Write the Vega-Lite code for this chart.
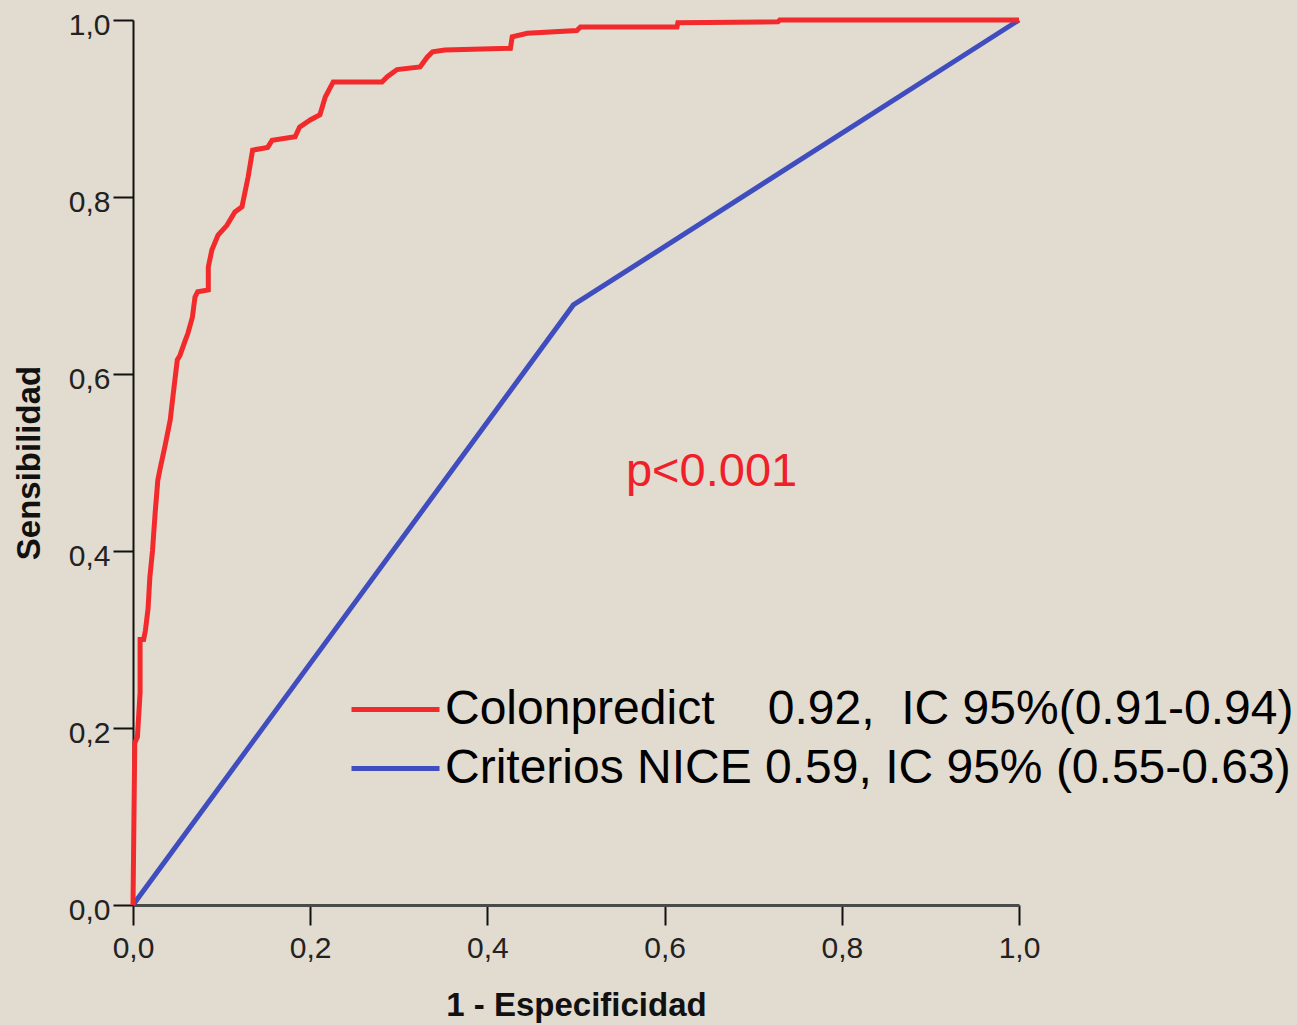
{
  "$schema": "https://vega.github.io/schema/vega-lite/v6.json",
  "autosize": {"type": "none"},
  "padding": {"left": 133, "top": 20, "right": 278, "bottom": 120},
  "width": 886,
  "height": 885,
  "background": "#e2dbcf",
  "config": {
    "view": {"stroke": null},
    "font": "Liberation Sans",
    "legend": {
      "orient": "none", "title": null, "padding": 0,
      "symbolType": "stroke", "symbolSize": 7744, "symbolStrokeWidth": 5,
      "labelFont": "Liberation Sans", "labelFontSize": 48, "labelColor": "#000000",
      "labelLimit": 1500, "labelOffset": 3
    },
    "axis": {
      "grid": false,
      "tickColor": "#111111", "tickWidth": 2, "tickSize": 20,
      "labelFont": "Liberation Sans", "labelFontSize": 30, "labelColor": "#222222",
      "labelFlush": false,
      "titleFont": "Liberation Sans", "titleFontSize": 33, "titleFontWeight": "bold", "titleColor": "#111111"
    }
  },
  "datasets": {
    "colon": [
      {"series": "Colonpredict\u00a0\u00a0\u00a0 0.92,\u00a0 IC 95%(0.91-0.94)", "i": 0, "fpr": 0.0, "tpr": 0.0},
      {"series": "Colonpredict\u00a0\u00a0\u00a0 0.92,\u00a0 IC 95%(0.91-0.94)", "i": 1, "fpr": 0.002, "tpr": 0.183},
      {"series": "Colonpredict\u00a0\u00a0\u00a0 0.92,\u00a0 IC 95%(0.91-0.94)", "i": 2, "fpr": 0.005, "tpr": 0.19},
      {"series": "Colonpredict\u00a0\u00a0\u00a0 0.92,\u00a0 IC 95%(0.91-0.94)", "i": 3, "fpr": 0.008, "tpr": 0.24},
      {"series": "Colonpredict\u00a0\u00a0\u00a0 0.92,\u00a0 IC 95%(0.91-0.94)", "i": 4, "fpr": 0.008, "tpr": 0.30},
      {"series": "Colonpredict\u00a0\u00a0\u00a0 0.92,\u00a0 IC 95%(0.91-0.94)", "i": 5, "fpr": 0.012, "tpr": 0.30},
      {"series": "Colonpredict\u00a0\u00a0\u00a0 0.92,\u00a0 IC 95%(0.91-0.94)", "i": 6, "fpr": 0.014, "tpr": 0.31},
      {"series": "Colonpredict\u00a0\u00a0\u00a0 0.92,\u00a0 IC 95%(0.91-0.94)", "i": 7, "fpr": 0.017, "tpr": 0.335},
      {"series": "Colonpredict\u00a0\u00a0\u00a0 0.92,\u00a0 IC 95%(0.91-0.94)", "i": 8, "fpr": 0.019, "tpr": 0.37},
      {"series": "Colonpredict\u00a0\u00a0\u00a0 0.92,\u00a0 IC 95%(0.91-0.94)", "i": 9, "fpr": 0.022, "tpr": 0.40},
      {"series": "Colonpredict\u00a0\u00a0\u00a0 0.92,\u00a0 IC 95%(0.91-0.94)", "i": 10, "fpr": 0.025, "tpr": 0.443},
      {"series": "Colonpredict\u00a0\u00a0\u00a0 0.92,\u00a0 IC 95%(0.91-0.94)", "i": 11, "fpr": 0.028, "tpr": 0.48},
      {"series": "Colonpredict\u00a0\u00a0\u00a0 0.92,\u00a0 IC 95%(0.91-0.94)", "i": 12, "fpr": 0.031, "tpr": 0.495},
      {"series": "Colonpredict\u00a0\u00a0\u00a0 0.92,\u00a0 IC 95%(0.91-0.94)", "i": 13, "fpr": 0.036, "tpr": 0.518},
      {"series": "Colonpredict\u00a0\u00a0\u00a0 0.92,\u00a0 IC 95%(0.91-0.94)", "i": 14, "fpr": 0.042, "tpr": 0.548},
      {"series": "Colonpredict\u00a0\u00a0\u00a0 0.92,\u00a0 IC 95%(0.91-0.94)", "i": 15, "fpr": 0.045, "tpr": 0.574},
      {"series": "Colonpredict\u00a0\u00a0\u00a0 0.92,\u00a0 IC 95%(0.91-0.94)", "i": 16, "fpr": 0.050, "tpr": 0.616},
      {"series": "Colonpredict\u00a0\u00a0\u00a0 0.92,\u00a0 IC 95%(0.91-0.94)", "i": 17, "fpr": 0.053, "tpr": 0.621},
      {"series": "Colonpredict\u00a0\u00a0\u00a0 0.92,\u00a0 IC 95%(0.91-0.94)", "i": 18, "fpr": 0.059, "tpr": 0.638},
      {"series": "Colonpredict\u00a0\u00a0\u00a0 0.92,\u00a0 IC 95%(0.91-0.94)", "i": 19, "fpr": 0.062, "tpr": 0.646},
      {"series": "Colonpredict\u00a0\u00a0\u00a0 0.92,\u00a0 IC 95%(0.91-0.94)", "i": 20, "fpr": 0.067, "tpr": 0.664},
      {"series": "Colonpredict\u00a0\u00a0\u00a0 0.92,\u00a0 IC 95%(0.91-0.94)", "i": 21, "fpr": 0.070, "tpr": 0.687},
      {"series": "Colonpredict\u00a0\u00a0\u00a0 0.92,\u00a0 IC 95%(0.91-0.94)", "i": 22, "fpr": 0.073, "tpr": 0.693},
      {"series": "Colonpredict\u00a0\u00a0\u00a0 0.92,\u00a0 IC 95%(0.91-0.94)", "i": 23, "fpr": 0.085, "tpr": 0.695},
      {"series": "Colonpredict\u00a0\u00a0\u00a0 0.92,\u00a0 IC 95%(0.91-0.94)", "i": 24, "fpr": 0.085, "tpr": 0.721},
      {"series": "Colonpredict\u00a0\u00a0\u00a0 0.92,\u00a0 IC 95%(0.91-0.94)", "i": 25, "fpr": 0.089, "tpr": 0.740},
      {"series": "Colonpredict\u00a0\u00a0\u00a0 0.92,\u00a0 IC 95%(0.91-0.94)", "i": 26, "fpr": 0.096, "tpr": 0.757},
      {"series": "Colonpredict\u00a0\u00a0\u00a0 0.92,\u00a0 IC 95%(0.91-0.94)", "i": 27, "fpr": 0.106, "tpr": 0.768},
      {"series": "Colonpredict\u00a0\u00a0\u00a0 0.92,\u00a0 IC 95%(0.91-0.94)", "i": 28, "fpr": 0.115, "tpr": 0.783},
      {"series": "Colonpredict\u00a0\u00a0\u00a0 0.92,\u00a0 IC 95%(0.91-0.94)", "i": 29, "fpr": 0.123, "tpr": 0.789},
      {"series": "Colonpredict\u00a0\u00a0\u00a0 0.92,\u00a0 IC 95%(0.91-0.94)", "i": 30, "fpr": 0.130, "tpr": 0.823},
      {"series": "Colonpredict\u00a0\u00a0\u00a0 0.92,\u00a0 IC 95%(0.91-0.94)", "i": 31, "fpr": 0.135, "tpr": 0.853},
      {"series": "Colonpredict\u00a0\u00a0\u00a0 0.92,\u00a0 IC 95%(0.91-0.94)", "i": 32, "fpr": 0.152, "tpr": 0.856},
      {"series": "Colonpredict\u00a0\u00a0\u00a0 0.92,\u00a0 IC 95%(0.91-0.94)", "i": 33, "fpr": 0.157, "tpr": 0.864},
      {"series": "Colonpredict\u00a0\u00a0\u00a0 0.92,\u00a0 IC 95%(0.91-0.94)", "i": 34, "fpr": 0.183, "tpr": 0.868},
      {"series": "Colonpredict\u00a0\u00a0\u00a0 0.92,\u00a0 IC 95%(0.91-0.94)", "i": 35, "fpr": 0.188, "tpr": 0.879},
      {"series": "Colonpredict\u00a0\u00a0\u00a0 0.92,\u00a0 IC 95%(0.91-0.94)", "i": 36, "fpr": 0.200, "tpr": 0.887},
      {"series": "Colonpredict\u00a0\u00a0\u00a0 0.92,\u00a0 IC 95%(0.91-0.94)", "i": 37, "fpr": 0.211, "tpr": 0.893},
      {"series": "Colonpredict\u00a0\u00a0\u00a0 0.92,\u00a0 IC 95%(0.91-0.94)", "i": 38, "fpr": 0.217, "tpr": 0.913},
      {"series": "Colonpredict\u00a0\u00a0\u00a0 0.92,\u00a0 IC 95%(0.91-0.94)", "i": 39, "fpr": 0.226, "tpr": 0.930},
      {"series": "Colonpredict\u00a0\u00a0\u00a0 0.92,\u00a0 IC 95%(0.91-0.94)", "i": 40, "fpr": 0.281, "tpr": 0.930},
      {"series": "Colonpredict\u00a0\u00a0\u00a0 0.92,\u00a0 IC 95%(0.91-0.94)", "i": 41, "fpr": 0.287, "tpr": 0.936},
      {"series": "Colonpredict\u00a0\u00a0\u00a0 0.92,\u00a0 IC 95%(0.91-0.94)", "i": 42, "fpr": 0.298, "tpr": 0.944},
      {"series": "Colonpredict\u00a0\u00a0\u00a0 0.92,\u00a0 IC 95%(0.91-0.94)", "i": 43, "fpr": 0.324, "tpr": 0.947},
      {"series": "Colonpredict\u00a0\u00a0\u00a0 0.92,\u00a0 IC 95%(0.91-0.94)", "i": 44, "fpr": 0.332, "tpr": 0.958},
      {"series": "Colonpredict\u00a0\u00a0\u00a0 0.92,\u00a0 IC 95%(0.91-0.94)", "i": 45, "fpr": 0.338, "tpr": 0.964},
      {"series": "Colonpredict\u00a0\u00a0\u00a0 0.92,\u00a0 IC 95%(0.91-0.94)", "i": 46, "fpr": 0.352, "tpr": 0.966},
      {"series": "Colonpredict\u00a0\u00a0\u00a0 0.92,\u00a0 IC 95%(0.91-0.94)", "i": 47, "fpr": 0.426, "tpr": 0.968},
      {"series": "Colonpredict\u00a0\u00a0\u00a0 0.92,\u00a0 IC 95%(0.91-0.94)", "i": 48, "fpr": 0.428, "tpr": 0.981},
      {"series": "Colonpredict\u00a0\u00a0\u00a0 0.92,\u00a0 IC 95%(0.91-0.94)", "i": 49, "fpr": 0.445, "tpr": 0.985},
      {"series": "Colonpredict\u00a0\u00a0\u00a0 0.92,\u00a0 IC 95%(0.91-0.94)", "i": 50, "fpr": 0.501, "tpr": 0.988},
      {"series": "Colonpredict\u00a0\u00a0\u00a0 0.92,\u00a0 IC 95%(0.91-0.94)", "i": 51, "fpr": 0.505, "tpr": 0.992},
      {"series": "Colonpredict\u00a0\u00a0\u00a0 0.92,\u00a0 IC 95%(0.91-0.94)", "i": 52, "fpr": 0.614, "tpr": 0.992},
      {"series": "Colonpredict\u00a0\u00a0\u00a0 0.92,\u00a0 IC 95%(0.91-0.94)", "i": 53, "fpr": 0.615, "tpr": 0.997},
      {"series": "Colonpredict\u00a0\u00a0\u00a0 0.92,\u00a0 IC 95%(0.91-0.94)", "i": 54, "fpr": 0.728, "tpr": 0.998},
      {"series": "Colonpredict\u00a0\u00a0\u00a0 0.92,\u00a0 IC 95%(0.91-0.94)", "i": 55, "fpr": 0.730, "tpr": 1.0},
      {"series": "Colonpredict\u00a0\u00a0\u00a0 0.92,\u00a0 IC 95%(0.91-0.94)", "i": 56, "fpr": 1.0, "tpr": 1.0}
    ],
    "nice": [
      {"series": "Criterios NICE 0.59, IC 95% (0.55-0.63)", "i": 0, "fpr": 0.0, "tpr": 0.0},
      {"series": "Criterios NICE 0.59, IC 95% (0.55-0.63)", "i": 1, "fpr": 0.497, "tpr": 0.678},
      {"series": "Criterios NICE 0.59, IC 95% (0.55-0.63)", "i": 2, "fpr": 1.0, "tpr": 1.0}
    ],
    "note": [
      {"label": "p<0.001", "fpr": 0.653, "tpr": 0.489}
    ]
  },
  "resolve": {"scale": {"color": "independent"}, "legend": {"color": "independent"}},
  "layer": [
    {
      "data": {"name": "nice"},
      "mark": {"type": "line", "strokeWidth": 5, "clip": false},
      "encoding": {
        "x": {
          "field": "fpr", "type": "quantitative",
          "scale": {"domain": [0, 1], "nice": false, "zero": false},
          "axis": {
            "title": "1 - Especificidad",
            "values": [0, 0.2, 0.4, 0.6, 0.8, 1.0],
            "format": ".1f",
            "labelExpr": "replace(datum.label, '.', ',')",
            "domainColor": "#4a4a4a", "domainWidth": 3,
            "labelPadding": 8,
            "titlePadding": 26
          }
        },
        "y": {
          "field": "tpr", "type": "quantitative",
          "scale": {"domain": [0, 1], "nice": false, "zero": false},
          "axis": {
            "title": "Sensibilidad",
            "values": [0, 0.2, 0.4, 0.6, 0.8, 1.0],
            "format": ".1f",
            "labelExpr": "replace(datum.label, '.', ',')",
            "domainColor": "#111111", "domainWidth": 2,
            "labelPadding": 3, "labelOffset": 5,
            "titlePadding": 22
          }
        },
        "color": {
          "field": "series", "type": "nominal",
          "scale": {"range": ["#3f4dbf"]},
          "legend": {"legendX": 216, "legendY": 702}
        },
        "order": {"field": "i", "type": "quantitative"}
      }
    },
    {
      "data": {"name": "colon"},
      "mark": {"type": "line", "strokeWidth": 5, "clip": false},
      "encoding": {
        "x": {"field": "fpr", "type": "quantitative"},
        "y": {"field": "tpr", "type": "quantitative"},
        "color": {
          "field": "series", "type": "nominal",
          "scale": {"range": ["#f22a2c"]},
          "legend": {"legendX": 216, "legendY": 643}
        },
        "order": {"field": "i", "type": "quantitative"}
      }
    },
    {
      "data": {"name": "note"},
      "mark": {"type": "text", "font": "Liberation Sans", "fontSize": 47, "color": "#f0202a", "align": "center", "baseline": "middle"},
      "encoding": {
        "x": {"field": "fpr", "type": "quantitative"},
        "y": {"field": "tpr", "type": "quantitative"},
        "text": {"field": "label"}
      }
    }
  ]
}
